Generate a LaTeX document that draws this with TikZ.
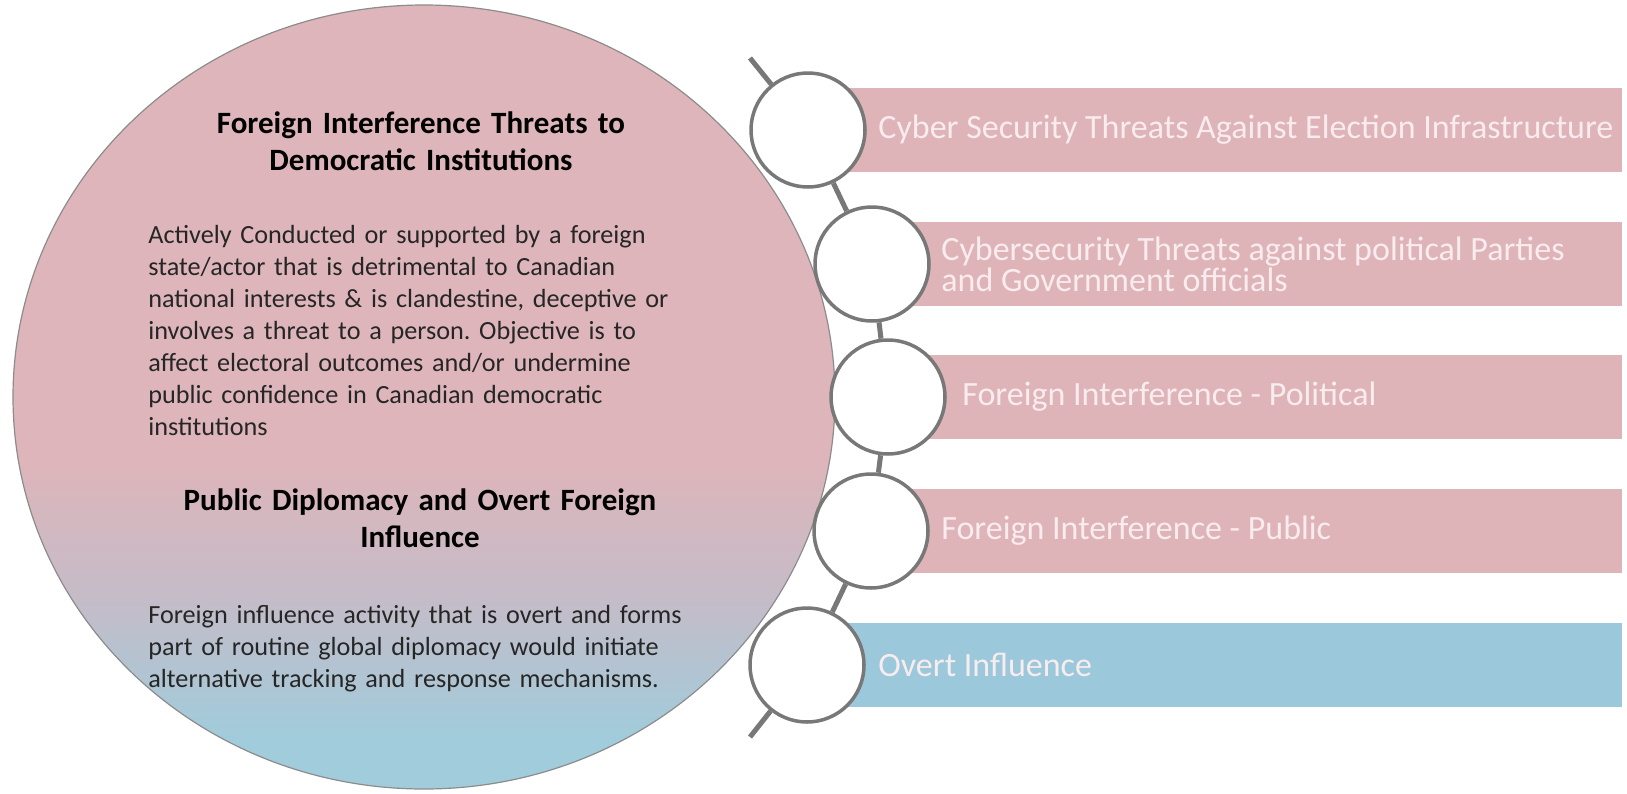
\documentclass[tikz,border=0pt]{standalone}
\usepackage{fontspec}
\setmainfont{Carlito}
\usetikzlibrary{shapes.geometric}
\frenchspacing

\definecolor{discpink}{RGB}{222,181,186}
\definecolor{discmid}{RGB}{196,188,200}
\definecolor{discblue}{RGB}{160,204,220}
\definecolor{discedge}{RGB}{140,140,140}
\definecolor{barpink}{RGB}{222,180,185}
\definecolor{barblue}{RGB}{155,201,219}
\definecolor{spinegray}{RGB}{120,120,120}
\definecolor{bartextc}{RGB}{248,236,238}
\definecolor{bodygray}{RGB}{38,38,38}

\pgfdeclareverticalshading{discshade}{100bp}{color(0bp)=(discblue); color(28bp)=(discblue); color(37bp)=(discmid); color(46bp)=(discpink); color(100bp)=(discpink)}

\begin{document}
\begin{tikzpicture}[x=0.5pt,y=-0.5pt]
  \tikzstyle{bigdisc}=[ellipse, draw=discedge, line width=0.6pt, shade, shading=discshade, minimum width=411pt, minimum height=392pt, inner sep=0pt]
  \tikzstyle{dot}=[circle, draw=spinegray, line width=1.75pt, fill=white, minimum size=57pt, inner sep=0pt]
  \tikzstyle{pinkbar}=[rectangle, fill=barpink, minimum height=42pt, inner sep=0pt, anchor=west]
  \tikzstyle{bluebar}=[pinkbar, fill=barblue]
  \tikzstyle{spine}=[draw=spinegray, line width=2.5pt]
  \tikzstyle{bartext}=[anchor=west, inner sep=0pt, text=bartextc, align=left, font=\fontsize{17}{15.5}\selectfont]
  \tikzstyle{headtext}=[anchor=base, inner sep=0pt, text width=300pt, align=center, font=\bfseries\fontsize{15.5}{18.5}\selectfont]
  \tikzstyle{bodytext}=[anchor=base west, inner sep=0pt, text width=320pt, align=left, text=bodygray, font=\fontsize{13.1}{16}\selectfont]
  \useasboundingbox (0,0) rectangle (1627,793);

  % Big disc and its text
  \node[bigdisc] (disc) at (424,397) {};
  \node[headtext] (head1) at (421,133) {Foreign Interference Threats to\\Democratic Institutions};
  \node[bodytext] (body1) at (148,243) {Actively Conducted or supported by a foreign\\state/actor that is detrimental to Canadian\\national interests \& is clandestine, deceptive or\\involves a threat to a person. Objective is to\\affect electoral outcomes and/or undermine\\public confidence in Canadian democratic\\institutions};
  \node[headtext] (head2) at (420,510) {Public Diplomacy and Overt Foreign\\Influence};
  \node[bodytext] (body2) at (148,623) {Foreign influence activity that is overt and forms\\part of routine global diplomacy would initiate\\alternative tracking and response mechanisms.};

  % Bars
  \node[pinkbar, minimum width=387pt] (b1) at (848,130) {};
  \node[pinkbar, minimum width=355pt] (b2) at (912,264) {};
  \node[pinkbar, minimum width=347pt] (b3) at (928,397) {};
  \node[pinkbar, minimum width=355.5pt] (b4) at (911,531) {};
  \node[bluebar, minimum width=387.5pt] (b5) at (847,665) {};

  % Beads on the spine
  \node[dot] (c1) at (808,130) {};
  \node[dot] (c2) at (872,264) {};
  \node[dot] (c3) at (888,397) {};
  \node[dot] (c4) at (871,531) {};
  \node[dot] (c5) at (807,665) {};
  \coordinate (stop) at (750,58);
  \coordinate (sbot) at (750,737);
  \draw[spine] (stop) -- (c1) -- (c2) -- (c3) -- (c4) -- (c5) -- (sbot);

  % Bar labels
  \node[bartext] (l1) at (878,130) {Cyber Security Threats Against Election Infrastructure};
  \node[bartext] (l2) at (941,264) {Cybersecurity Threats against political Parties\\and Government officials};
  \node[bartext] (l3) at (962,397) {Foreign Interference - Political};
  \node[bartext] (l4) at (941,531) {Foreign Interference - Public};
  \node[bartext] (l5) at (878,665) {Overt Influence};
\end{tikzpicture}
\end{document}
